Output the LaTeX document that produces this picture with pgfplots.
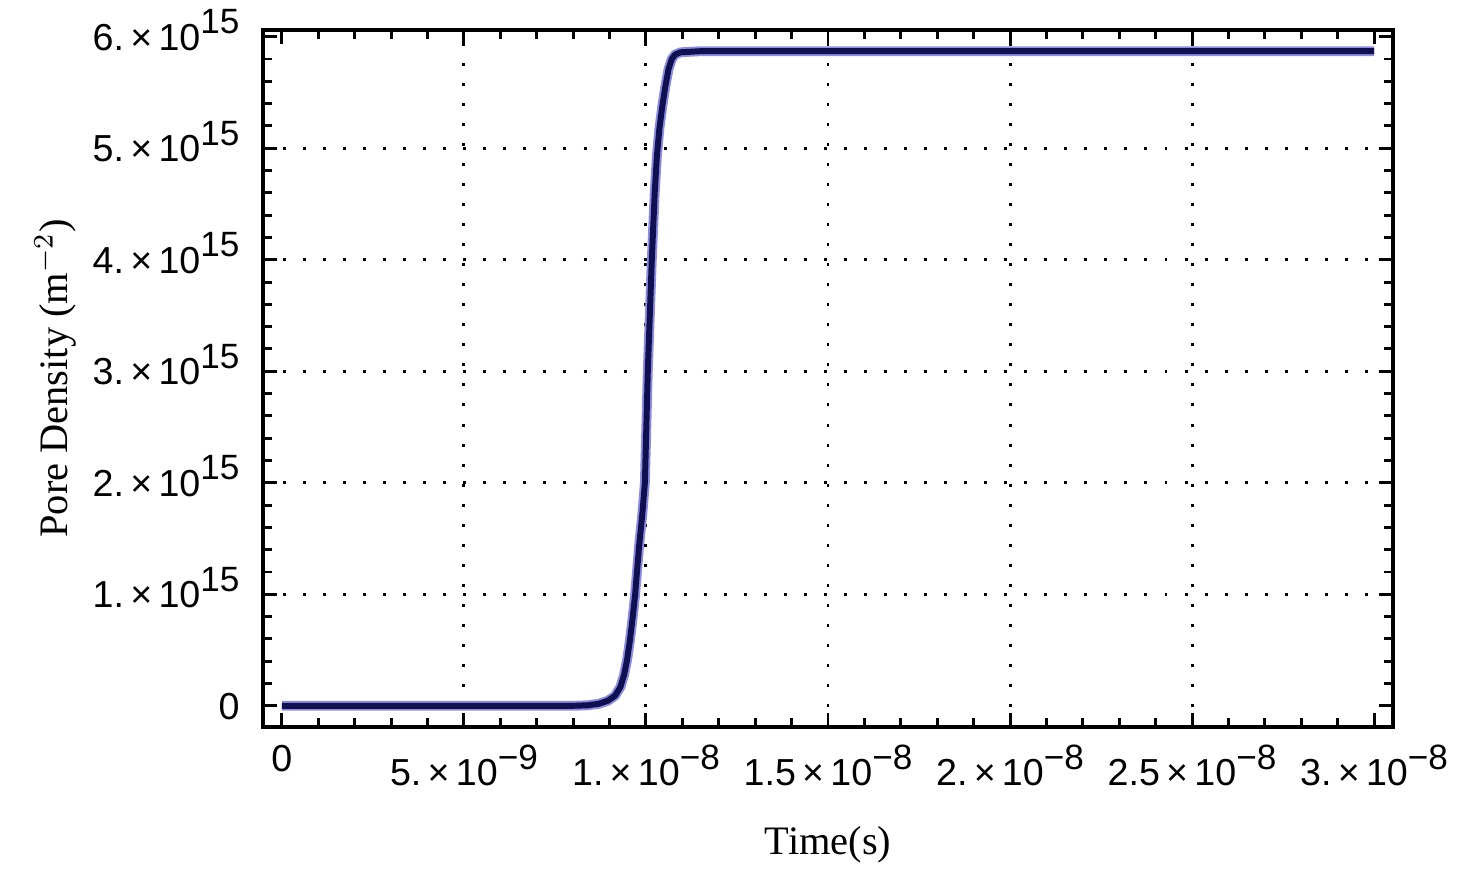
\documentclass[border=0pt]{standalone}
\usepackage{pgfplots}
\pgfplotsset{compat=1.18}
\usepackage{fontspec}
\setmainfont{Liberation Serif}
\newfontfamily\tickfont{Liberation Sans}
\definecolor{curvedark}{RGB}{16,16,80}
\definecolor{curvehalo}{RGB}{140,140,225}
\newcommand{\sci}[2]{#1\,×\,10\raisebox{4.6pt}{\fontsize{10}{10}\selectfont #2}}
\begin{document}
\begin{tikzpicture}
\useasboundingbox (0,0) rectangle (14.63cm,8.68cm);
\begin{axis}[
  at={(2.63cm,1.41cm)}, anchor=south west,
  scale only axis, width=11.30cm, height=6.97cm,
  xmin=-5.2e-10, xmax=3.052e-8,
  ymin=-1.9e14, ymax=6.06e15,
  scaled x ticks=false, scaled y ticks=false,
  axis line style={line width=1.1pt},
  every tick/.style={black, line width=0.85pt},
  major tick length=4pt, minor tick length=2.6pt,
  xtick={0,3e-8}, xticklabels={0,\sci{3.}{−8}},
  extra x ticks={5e-9,1e-8,1.5e-8,2e-8,2.5e-8},
  extra x tick labels={\sci{5.}{−9},\sci{1.}{−8},\sci{1.5}{−8},\sci{2.}{−8},\sci{2.5}{−8}},
  extra x tick style={grid=major},
  ytick={0,6e15}, yticklabels={0,\sci{6.}{15}},
  extra y ticks={1e15,2e15,3e15,4e15,5e15},
  extra y tick labels={\sci{1.}{15},\sci{2.}{15},\sci{3.}{15},\sci{4.}{15},\sci{5.}{15}},
  extra y tick style={grid=major},
  minor xtick={1e-9,2e-9,3e-9,4e-9,6e-9,7e-9,8e-9,9e-9,1.1e-8,1.2e-8,1.3e-8,1.4e-8,1.6e-8,1.7e-8,1.8e-8,1.9e-8,2.1e-8,2.2e-8,2.3e-8,2.4e-8,2.6e-8,2.7e-8,2.8e-8,2.9e-8},
  minor ytick={2e14,4e14,6e14,8e14,1.2e15,1.4e15,1.6e15,1.8e15,2.2e15,2.4e15,2.6e15,2.8e15,3.2e15,3.4e15,3.6e15,3.8e15,4.2e15,4.4e15,4.6e15,4.8e15,5.2e15,5.4e15,5.6e15,5.8e15},
  major grid style={black, line width=0.85pt, dash pattern=on 0.85pt off 4.85pt},
  ticklabel style={font=\tickfont\fontsize{10.7}{12}\selectfont, inner sep=0pt},
  xticklabel style={anchor=north, yshift=-5pt},
  yticklabel style={anchor=base east, xshift=-6.5pt, yshift=-3.8pt},
  xlabel={Time(s)},
  ylabel={Pore Density (m$^{-2}$)},
  label style={font=\fontsize{11.5}{13}\selectfont},
  xlabel style={at={(axis description cs:0.5,-0.1836)}, anchor=base},
  ylabel style={at={(axis description cs:-0.1726,0.5)}, anchor=base, rotate=0},
]
\pgfplotstableread{
x y
0 0
8.0e-9 0
8.4e-9 5e12
8.7e-9 1.8e13
8.95e-9 4.5e13
9.15e-9 9.0e13
9.3e-9 1.7e14
9.4e-9 2.8e14
9.48e-9 4.1e14
9.56e-9 5.9e14
9.63e-9 7.8e14
9.70e-9 9.9e14
9.81e-9 1.43e15
9.90e-9 1.72e15
9.97e-9 2.0e15
1.005e-8 3.0e15
1.016e-8 4.0e15
1.024e-8 4.6e15
1.030e-8 4.93e15
1.037e-8 5.18e15
1.045e-8 5.38e15
1.053e-8 5.55e15
1.062e-8 5.71e15
1.071e-8 5.80e15
1.080e-8 5.84e15
1.095e-8 5.86e15
1.15e-8 5.87e15
3e-8 5.87e15
}\curvedata
\addplot[curvehalo, line width=2.8pt, line join=round] table {\curvedata};
\addplot[curvedark, line width=1.7pt, line join=round] table {\curvedata};
\end{axis}
\end{tikzpicture}
\end{document}
